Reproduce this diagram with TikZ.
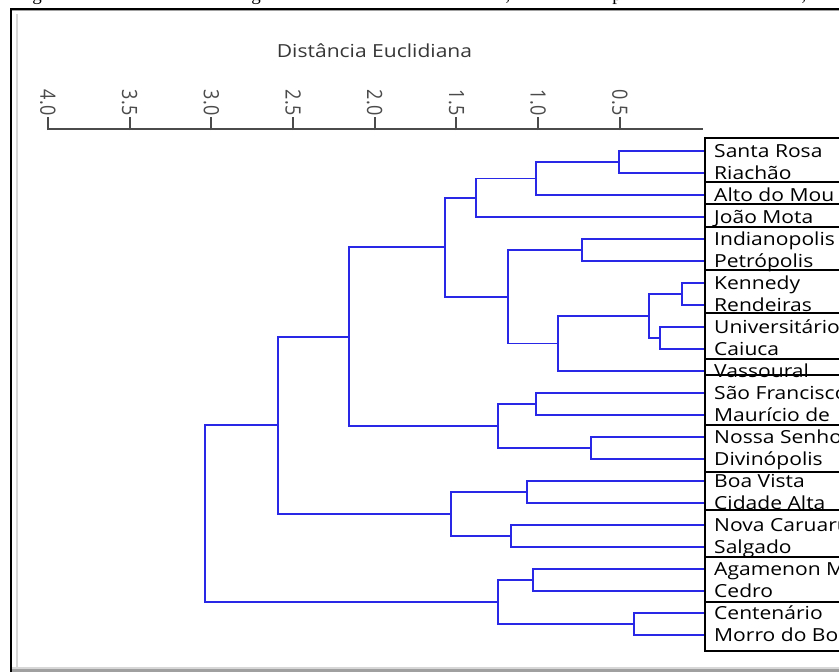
\documentclass[tikz,border=0pt]{standalone}
\usepackage{fontspec}
\newfontfamily\uifont[FakeStretch=1.17]{Open Sans}
\newfontfamily\axfont{Open Sans}
\newfontfamily\capfont{Liberation Serif}
\definecolor{dendro}{RGB}{40,40,230}
\definecolor{axisgrey}{RGB}{75,75,75}
\definecolor{titlegrey}{RGB}{55,55,55}
\definecolor{frameshade}{RGB}{160,160,160}
\definecolor{innershade}{RGB}{215,215,215}
\begin{document}
\begin{tikzpicture}[x=1pt,y=-1pt,
  branch/.style={draw=dendro, line width=1.9pt, line cap=rect},
  leaflabel/.style={anchor=base west, inner sep=0pt,
    font=\uifont\fontsize{18}{22}\selectfont, text=black},
  boxline/.style={draw=black, line width=2.6pt},
  axisline/.style={draw=axisgrey, line width=2pt},
  ticklabel/.style={rotate=-90, anchor=east, inner sep=0pt,
    font=\axfont\fontsize{18}{22}\selectfont, text=axisgrey},
  titlelabel/.style={anchor=base, inner sep=0pt,
    font=\uifont\fontsize{18}{22}\selectfont, text=titlegrey},
  capglyph/.style={anchor=base, inner sep=0pt,
    font=\capfont\fontsize{19}{22}\selectfont, text=black}]
\useasboundingbox (0,0) rectangle (839,672);
\clip (0,0) rectangle (839,672);
\fill[white] (0,0) rectangle (839,672);

% descenders of the caption line above the frame
\node[capglyph] (c1) at (37,0) {g};
\node[capglyph] (c2) at (256,0) {g};
\node[capglyph] (c3) at (508,0) {,};
\node[capglyph] (c4) at (617,0) {p};
\node[capglyph] (c5) at (804,0) {,};

% frame
\draw[black, line width=2pt] (11,8.5) -- (845,8.5);
\draw[frameshade, line width=0.8pt] (12,10) -- (845,10);
\draw[black, line width=2pt] (11,8) -- (11,680);
\draw[innershade, line width=1.6pt] (17,14) -- (17,667);
\fill[innershade] (12,666.5) rectangle (845,668.5);
\fill[frameshade] (12,668.5) rectangle (845,680);

% axis
\node[titlelabel] (title) at (374.5,57) {Distância Euclidiana};
\coordinate (axL) at (47,129);
\coordinate (axR) at (703,129);
\draw[axisline] (axL) -- (axR);
\foreach \v/\k in {4.0/1,3.5/2,3.0/3,2.5/4,2.0/5,1.5/6,1.0/7,0.5/8}{
  \pgfmathsetmacro\xx{701.5-163.4*\v}
  \coordinate (tb\k) at (\xx,130);
  \coordinate (tt\k) at (\xx,117);
  \draw[axisline] (tb\k) -- (tt\k);
  \node[ticklabel] (t\k) at (\xx,115.5) {\scalebox{1}[1.17]{\v}};
}

% leaves
\foreach \i/\name in {0/Santa Rosa,1/Riachão,2/Alto do Mou,3/João Mota,
  4/Indianopolis,5/Petrópolis,6/Kennedy,7/Rendeiras,8/Universitário,
  9/Caiuca,10/Vassoural,11/São Francisco,12/Maurício de,13/Nossa Senho,
  14/Divinópolis,15/Boa Vista,16/Cidade Alta,17/Nova Caruaru,18/Salgado,
  19/Agamenon M,20/Cedro,21/Centenário,22/Morro do Bo}{
  \coordinate (l\i) at (705,151+22*\i);
  \node[leaflabel] (n\i) at (714,157.4+22*\i) {\name};
}

% merge points
\coordinate (j1) at (619,162);
\coordinate (j2) at (536,178.5);
\coordinate (j3) at (476,197.75);
\coordinate (j4) at (582,250);
\coordinate (j5) at (682,294);
\coordinate (j6) at (660,338);
\coordinate (j7) at (649,316);
\coordinate (j8) at (558,343.5);
\coordinate (j9) at (508,296.75);
\coordinate (j10) at (445,247.25);
\coordinate (j11) at (536,404);
\coordinate (j12) at (591,448);
\coordinate (j13) at (498,426);
\coordinate (j14) at (349,336.6);
\coordinate (j15) at (527,492);
\coordinate (j16) at (511,536);
\coordinate (j17) at (451,514);
\coordinate (j18) at (278,425.3);
\coordinate (j19) at (533,580);
\coordinate (j20) at (634,624);
\coordinate (j21) at (498,602);
\coordinate (root) at (205,513.7);

% dendrogram
\draw[branch] (l0) -| (j1) |- (l1);
\draw[branch] (j1) -| (j2) |- (l2);
\draw[branch] (j2) -| (j3) |- (l3);
\draw[branch] (l4) -| (j4) |- (l5);
\draw[branch] (l6) -| (j5) |- (l7);
\draw[branch] (l8) -| (j6) |- (l9);
\draw[branch] (j5) -| (j7) |- (j6);
\draw[branch] (j7) -| (j8) |- (l10);
\draw[branch] (j4) -| (j9) |- (j8);
\draw[branch] (j3) -| (j10) |- (j9);
\draw[branch] (l11) -| (j11) |- (l12);
\draw[branch] (l13) -| (j12) |- (l14);
\draw[branch] (j11) -| (j13) |- (j12);
\draw[branch] (j10) -| (j14) |- (j13);
\draw[branch] (l15) -| (j15) |- (l16);
\draw[branch] (l17) -| (j16) |- (l18);
\draw[branch] (j15) -| (j17) |- (j16);
\draw[branch] (j14) -| (j18) |- (j17);
\draw[branch] (l19) -| (j19) |- (l20);
\draw[branch] (l21) -| (j20) |- (l22);
\draw[branch] (j19) -| (j21) |- (j20);
\draw[branch] (j18) -| (root) |- (j21);

% label boxes
\foreach \t/\b in {138/182,182/204,204/227,227/270,270/313,313/359,
  359/375,375/425,425/472,472/510,510/557,557/602,602/651}{
  \draw[boxline] (705,\t) rectangle (860,\b);
}
\end{tikzpicture}
\end{document}
